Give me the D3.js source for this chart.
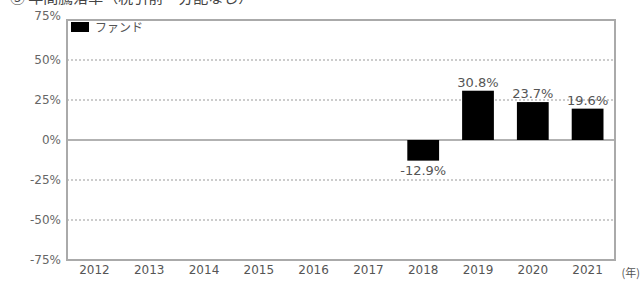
<!DOCTYPE html>
<html>
<head>
<meta charset="utf-8">
<style>
  body { margin: 0; background: #fff; }
  text { font-family: "DejaVu Sans", "Noto Sans CJK JP", sans-serif; }
</style>
</head>
<body>
<script src="https://cdn.jsdelivr.net/npm/d3@7"></script>
<script>
// data
var years = ["2012","2013","2014","2015","2016","2017","2018","2019","2020","2021"];
var fund = [null, null, null, null, null, null, -12.9, 30.8, 23.7, 19.6];
var yTicks = [75, 50, 25, 0, -25, -50, -75];
var seriesName = "ファンド";

var W = 643, H = 281;
var margin = {top: 20, right: 28, bottom: 21, left: 67};
var jp = '"Noto Sans CJK JP", sans-serif';

var svg = d3.select("body").append("svg")
    .attr("width", W)
    .attr("height", H);

// title, cut off by the top edge as in the picture
svg.append("text")
    .attr("x", 10).attr("y", 3)
    .attr("font-size", 15)
    .attr("fill", "#444")
    .style("font-family", jp)
    .text("③ 年間騰落率（税引前・分配なし）");

var x = d3.scaleBand()
    .domain(years)
    .range([margin.left, W - margin.right])
    .paddingInner(0.42)
    .paddingOuter(0.21);

var y = d3.scaleLinear()
    .domain([-75, 75])
    .range([H - margin.bottom, margin.top]);

// grid
svg.selectAll(".grid")
    .data(yTicks.filter(d => d !== 0 && Math.abs(d) !== 75))
  .enter().append("line")
    .attr("x1", margin.left).attr("x2", W - margin.right)
    .attr("y1", d => y(d)).attr("y2", d => y(d))
    .attr("stroke", "#999")
    .attr("stroke-width", 1)
    .attr("stroke-dasharray", "2,2");

svg.append("line")
    .attr("x1", margin.left).attr("x2", W - margin.right)
    .attr("y1", y(0)).attr("y2", y(0))
    .attr("stroke", "#999")
    .attr("stroke-width", 1.5);

// bars
var data = years.map((d, i) => ({year: d, v: fund[i]})).filter(d => d.v !== null);

svg.selectAll(".bar")
    .data(data)
  .enter().append("rect")
    .attr("x", d => x(d.year))
    .attr("width", x.bandwidth())
    .attr("y", d => y(Math.max(0, d.v)))
    .attr("height", d => Math.abs(y(d.v) - y(0)))
    .attr("fill", "#000");

svg.selectAll(".val")
    .data(data)
  .enter().append("text")
    .attr("x", d => x(d.year) + x.bandwidth() / 2)
    .attr("y", d => d.v >= 0 ? y(d.v) - 4 : y(d.v) + 14)
    .attr("text-anchor", "middle")
    .attr("font-size", 13)
    .attr("fill", "#555")
    .text(d => d.v.toFixed(1) + "%");

// frame
svg.append("rect")
    .attr("x", margin.left).attr("y", margin.top)
    .attr("width", W - margin.left - margin.right)
    .attr("height", H - margin.top - margin.bottom)
    .attr("fill", "none")
    .attr("stroke", "#aaa")
    .attr("stroke-width", 2);

// y axis
var yAxis = svg.append("g")
    .attr("transform", `translate(${margin.left},0)`)
    .call(d3.axisLeft(y).tickValues(yTicks).tickSize(0).tickPadding(6).tickFormat(d => d + "%"));
yAxis.select(".domain").remove();
yAxis.selectAll("text")
    .attr("font-size", 12)
    .attr("fill", "#666")
    .style("font-family", '"DejaVu Sans", sans-serif')
    .attr("dy", d => d === 75 ? "-0.05em" : "0.32em");

// x axis
var xAxis = svg.append("g")
    .attr("transform", `translate(0,${H - margin.bottom})`)
    .call(d3.axisBottom(x).tickSize(0).tickPadding(5));
xAxis.select(".domain").remove();
xAxis.selectAll("text")
    .attr("font-size", 12)
    .attr("fill", "#555")
    .style("font-family", '"DejaVu Sans", sans-serif');

svg.append("text")
    .attr("x", W - 3).attr("y", 277)
    .attr("text-anchor", "end")
    .attr("font-size", 11)
    .attr("fill", "#555")
    .style("font-family", jp)
    .text("(年)");

// legend
svg.append("rect")
    .attr("x", 71).attr("y", 22)
    .attr("width", 18).attr("height", 10)
    .attr("fill", "#000");
svg.append("text")
    .attr("x", 95).attr("y", 32)
    .attr("font-size", 12)
    .attr("fill", "#555")
    .style("font-family", jp)
    .text(seriesName);
</script>
</body>
</html>
